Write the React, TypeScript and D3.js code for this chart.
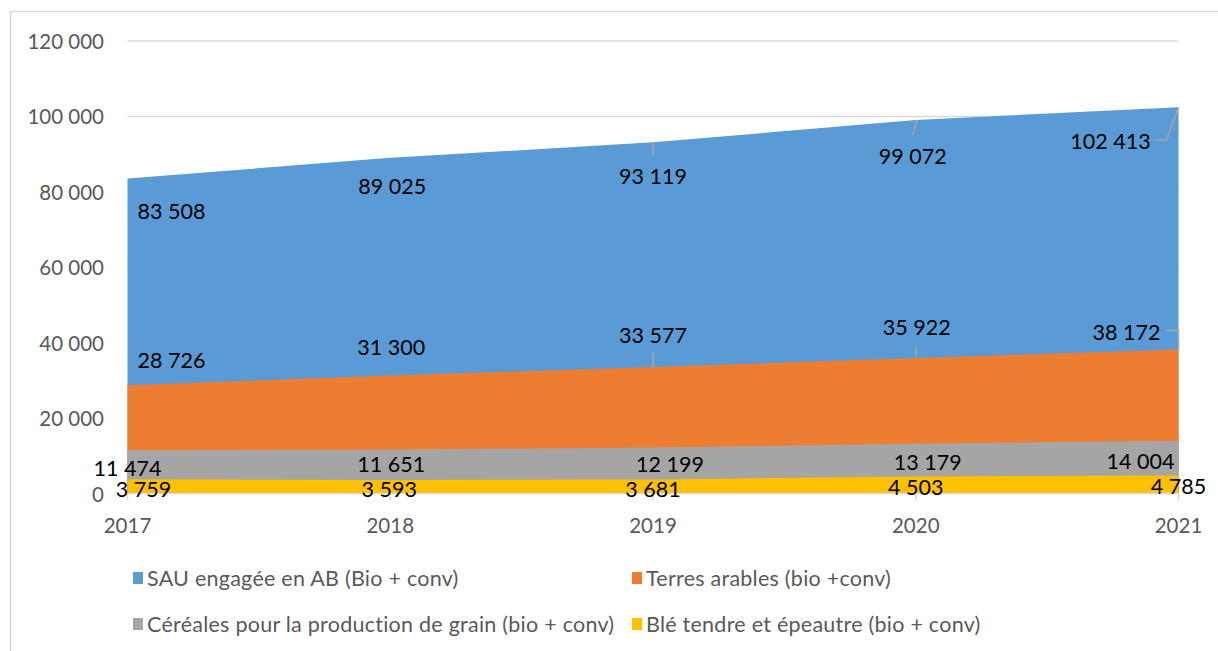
import React from "react";
import * as d3 from "d3";

const years = ["2017", "2018", "2019", "2020", "2021"];
const sau = [83508, 89025, 93119, 99072, 102413];
const terres = [28726, 31300, 33577, 35922, 38172];
const cereales = [11474, 11651, 12199, 13179, 14004];
const ble = [3759, 3593, 3681, 4503, 4785];
const yTicks = [0, 20000, 40000, 60000, 80000, 100000, 120000];
const seriesNames = [
  "SAU engagée en AB (Bio + conv)",
  "Terres arables (bio +conv)",
  "Céréales pour la production de grain (bio + conv)",
  "Blé tendre et épeautre (bio + conv)",
];
const colors = ["#5B9BD5", "#ED7D31", "#A5A5A5", "#FFC000"];

// label offsets (px) relative to data point, per series
const labelOffsets: [number, number][][] = [
  [[44, 32], [2, 28], [0, 34], [-3, 36], [-68, 34]],
  [[44, -25], [1, -28], [0, -32], [1, -31], [-52, -18]],
  [[0, 18], [1, 14], [17, 16.5], [12, 18], [-38, 20]],
  [[16, 10], [-1, 9], [0, 9], [0, 10], [0, 10.5]],
];

const fmt = (v: number) => d3.format(",")(v).replace(/,/g, " ");

export default function App() {
  const W = 1218, H = 651;
  const x = d3.scalePoint<string>().domain(years).range([127.5, 1178.5]);
  const y = d3.scaleLinear().domain([0, 120000]).range([493.5, 41]);
  const all = [sau, terres, cereales, ble];
  const area = d3
    .area<number>()
    .x((_, i) => x(years[i])!)
    .y0(y(0))
    .y1((d) => y(d));

  const font = "Lato, 'Open Sans', sans-serif";
  const px = (s: number, i: number) => x(years[i])!;
  const py = (s: number, i: number) => y(all[s][i]);

  const leaders: { s: number; i: number; pts: [number, number][] }[] = [
    { s: 0, i: 2, pts: [[0, 0], [0, 13]] },
    { s: 0, i: 3, pts: [[1, 0], [-3, 15]] },
    { s: 0, i: 4, pts: [[0, 0], [-12, 33], [-24, 33]] },
    { s: 1, i: 2, pts: [[0, 0], [0, -15]] },
    { s: 1, i: 3, pts: [[0, 0], [0, -12]] },
    { s: 1, i: 4, pts: [[0, 0], [0, -19], [-12, -19]] },
  ];

  const legendPos: [number, number][] = [
    [133, 578],
    [632, 578],
    [133, 624],
    [632, 624],
  ];

  return (
    <svg
      width={W}
      height={H}
      style={{ position: "absolute", left: 0, top: 0, background: "#fff" }}
    >
      <rect x={10.5} y={11.5} width={W + 10} height={H + 10} fill="#fff" stroke="#d9d9d9" strokeWidth={1.5} />
      {yTicks.map((t) => (
        <g key={t}>
          {t > 0 && (
            <line x1={127.5} x2={1178.5} y1={y(t)} y2={y(t)} stroke="#d9d9d9" strokeWidth={1.5} />
          )}
          <text
            x={104}
            y={y(t)}
            textAnchor="end"
            dominantBaseline="central"
            fontFamily={font}
            fontSize={20.5}
            fill="#595959"
          >
            {fmt(t)}
          </text>
        </g>
      ))}
      {all.map((s, k) => (
        <path key={k} d={area(s)!} fill={colors[k]} />
      ))}
      <line x1={127.5} x2={1178.5} y1={y(0)} y2={y(0)} stroke="#d9d9d9" strokeWidth={1.5} />
      {years.map((yr) => (
        <g key={yr}>
          <line x1={x(yr)} x2={x(yr)} y1={y(0)} y2={y(0) + 7} stroke="#d9d9d9" strokeWidth={1.5} />
          <text
            x={x(yr)}
            y={525}
            textAnchor="middle"
            dominantBaseline="central"
            fontFamily={font}
            fontSize={20.5}
            fill="#595959"
          >
            {yr}
          </text>
        </g>
      ))}
      {leaders.map((l, j) => (
        <polyline
          key={j}
          points={l.pts.map(([dx, dy]) => `${px(l.s, l.i) + dx},${py(l.s, l.i) + dy}`).join(" ")}
          fill="none"
          stroke="#a6a6a6"
          strokeWidth={1.5}
        />
      ))}
      {all.map((s, k) =>
        s.map((v, i) => (
          <text
            key={`${k}-${i}`}
            x={px(k, i) + labelOffsets[k][i][0]}
            y={py(k, i) + labelOffsets[k][i][1]}
            textAnchor="middle"
            dominantBaseline="central"
            fontFamily={font}
            fontSize={21.5}
            fill="#000"
          >
            {fmt(v)}
          </text>
        ))
      )}
      {seriesNames.map((n, k) => (
        <g key={n}>
          <rect x={legendPos[k][0]} y={legendPos[k][1] - 6} width={10} height={12} fill={colors[k]} />
          <text
            x={legendPos[k][0] + 14}
            y={legendPos[k][1]}
            dominantBaseline="central"
            fontFamily={font}
            fontSize={21.5}
            letterSpacing={0.25}
            fill="#595959"
          >
            {n}
          </text>
        </g>
      ))}
    </svg>
  );
}
